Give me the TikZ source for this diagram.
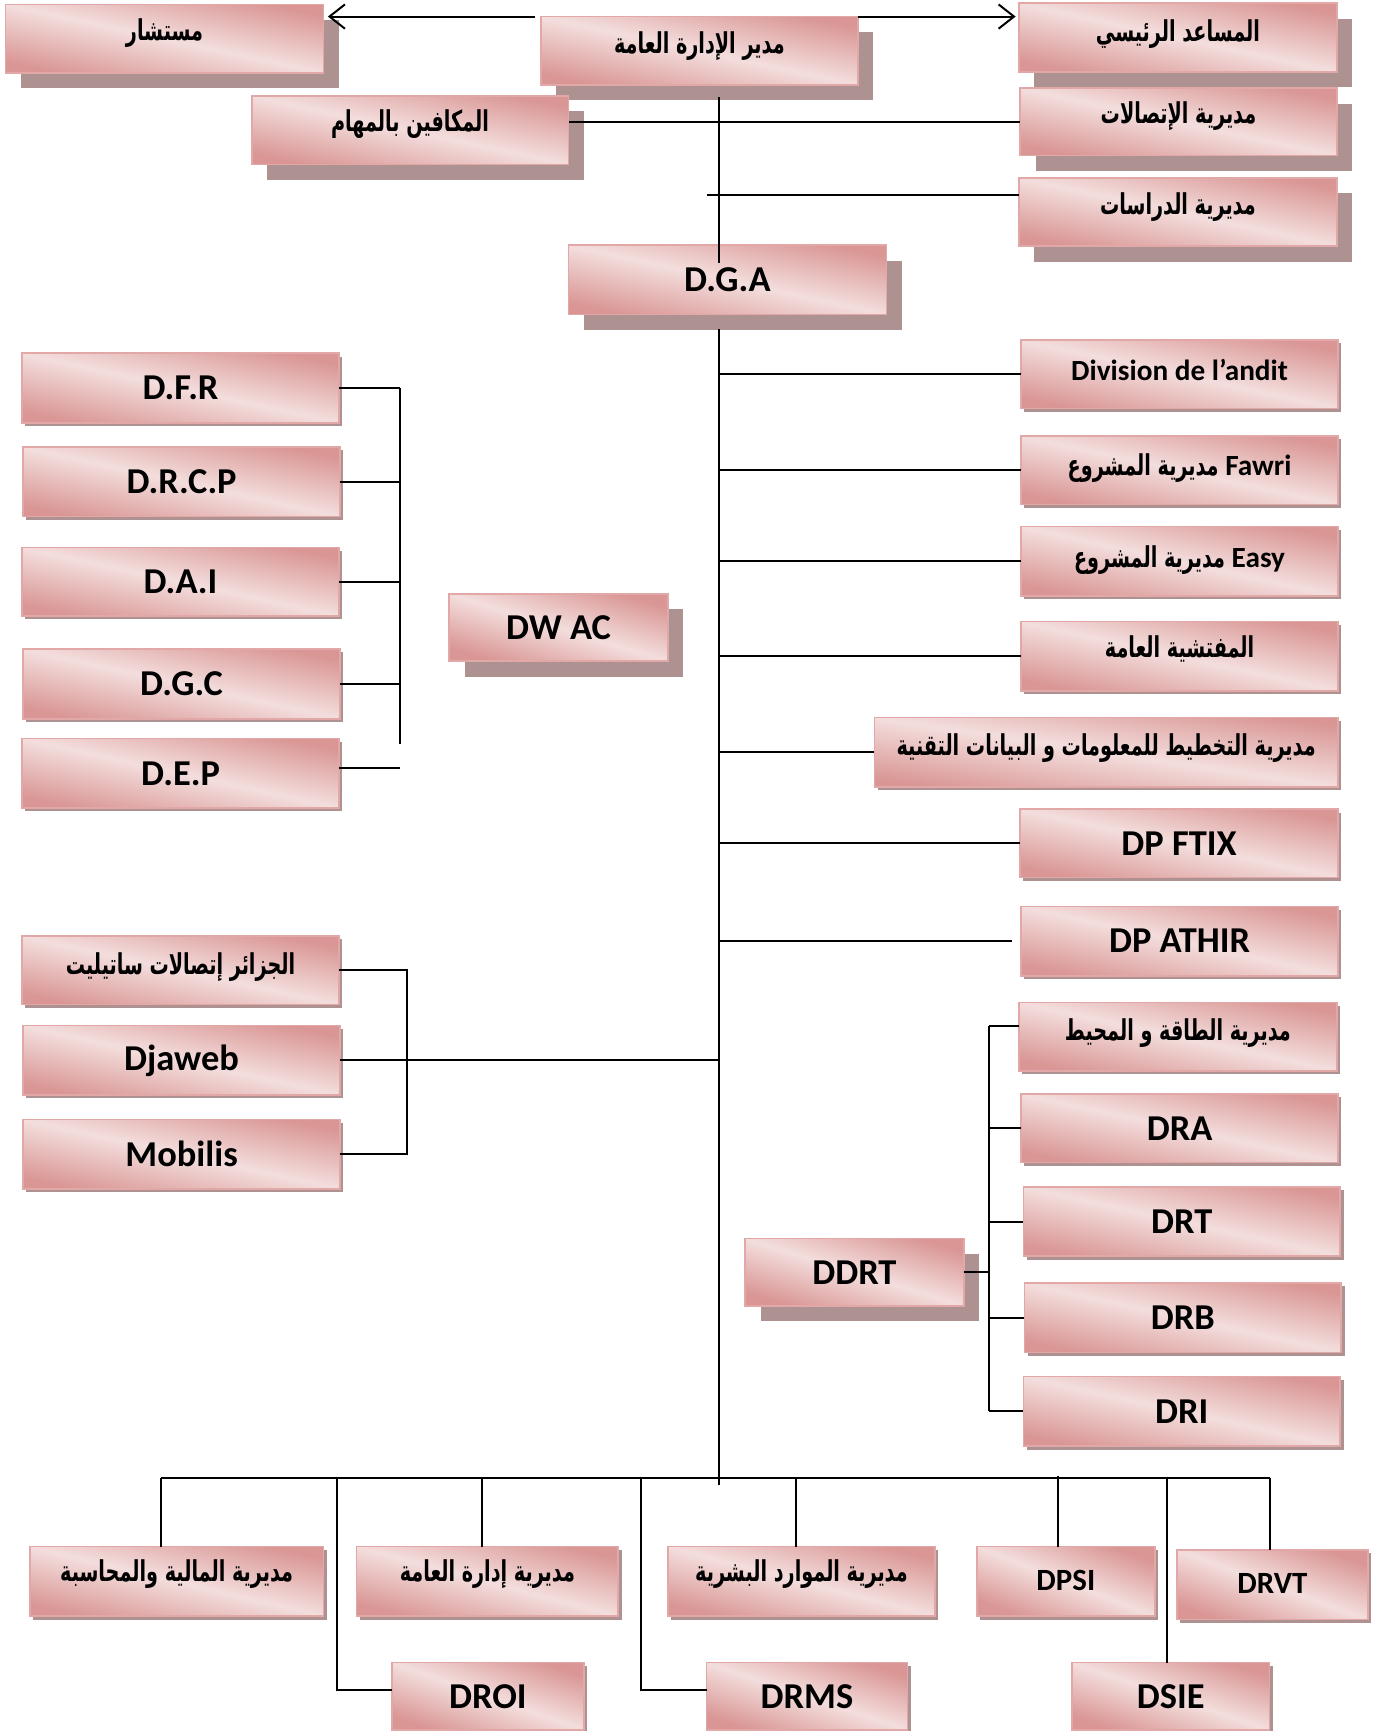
\documentclass[tikz,border=0pt]{standalone}
\usepackage{fontspec}
\usetikzlibrary{shadows,arrows.meta}
\TeXXeTstate=1
\newfontfamily\arabicfont[Script=Arabic]{DejaVu Sans}
\newfontfamily\latinfont{Carlito}
\definecolor{pinkD}{RGB}{217,150,148}
\definecolor{pinkL}{RGB}{243,222,221}
\definecolor{pinkB}{RGB}{226,168,168}
\definecolor{shadowC}{RGB}{174,145,145}
\newcommand\artext[1]{{\arabicfont\bfseries\fontsize{20}{24}\selectfont\scalebox{0.87}[1.3]{\beginR #1\endR}}}
\newcommand\obox[7][smallsh]{\pgfmathsetmacro\shang{-atan((#6-#4)/(#5-#3))}%
  \node[obox,#1,shading angle=\shang,minimum width={#5pt-#3pt},minimum height={#6pt-#4pt}] (#2) at ({(#3+#5)/2},{(#4+#6)/2}) {#7};}
\newcommand\up[2]{\raisebox{#1pt}{#2}}
\tikzset{
  obox/.style={draw=pinkB, line width=1.5pt, top color=pinkD, bottom color=pinkD, middle color=pinkL,
    inner sep=0pt, outer sep=0pt, text=black, font=\latinfont\bfseries\fontsize{33}{36}\selectfont},
  smallsh/.style={drop shadow={shadow xshift=3pt, shadow yshift=-3pt, fill=shadowC, opacity=1}},
  bigsh/.style={drop shadow={shadow xshift=14pt, shadow yshift=-14pt, fill=shadowC, opacity=1}},
  midfont/.style={font=\latinfont\bfseries\fontsize{28}{32}\selectfont},
  smfont/.style={font=\latinfont\bfseries\fontsize{26.5}{30}\selectfont},
  conn/.style={line width=1.8pt, black},
  arr/.style={conn, -{Straight Barb[length=14pt,width=22pt]}}
}
\begin{document}
\begin{tikzpicture}[x=1pt,y=-1pt]
\useasboundingbox (0,0) rectangle (1243,1568);
\clip (0,0) rectangle (1243,1568);
% top boxes
\obox[bigsh]{mst}{5}{4}{293}{66}{\up{17}{\artext{مستشار}}}
\obox[bigsh]{mdir}{490}{15}{777}{77}{\up{15}{\artext{مدير الإدارة العامة}}}
\obox[bigsh]{msa}{923}{3}{1211}{65}{\up{12}{\artext{المساعد الرئيسي}}}
\obox[bigsh]{mkf}{228}{87}{515}{149}{\up{17}{\artext{المكافين بالمهام}}}
\obox[bigsh]{itt}{924}{80}{1211}{141}{\up{17}{\artext{مديرية الإتصالات}}}
\obox[bigsh]{dir}{923}{161}{1211}{223}{\up{15}{\artext{مديرية الدراسات}}}
\obox[bigsh]{dga}{515}{222}{803}{285}{D.G.A}
\obox[bigsh]{dwac}{407}{538}{605}{599}{DW AC}
\obox[bigsh]{ddrt}{675}{1122}{873}{1183}{DDRT}
% left
\obox{dfr}{20}{320}{307}{383}{D.F.R}
\obox{drcp}{21}{405}{308}{468}{D.R.C.P}
\obox{dai}{20}{496}{307}{558}{D.A.I}
\obox{dgc}{21}{588}{308}{651}{D.G.C}
\obox{dep}{20}{669}{307}{732}{D.E.P}
\obox{sat}{20}{848}{307}{910}{\up{13}{\artext{الجزائر إتصالات ساتيليت}}}
\obox{djw}{21}{929}{308}{992}{Djaweb}
\obox{mob}{21}{1014}{308}{1077}{Mobilis}
% right
\obox[smallsh,smfont]{div}{925}{308}{1212}{370}{\up{8}{Division de l’andit}}
\obox[smallsh,smfont]{faw}{925}{395}{1212}{457}{\up{10}{\artext{مديرية المشروع} Fawri}}
\obox[smallsh,smfont]{easy}{925}{477}{1212}{540}{\up{8}{\artext{مديرية المشروع} Easy}}
\obox{insp}{925}{563}{1212}{626}{\up{17}{\artext{المفتشية العامة}}}
\obox{plan}{792}{650}{1212}{713}{\up{14}{\artext{مديرية التخطيط للمعلومات و البيانات التقنية}}}
\obox{ftix}{924}{733}{1212}{795}{DP FTIX}
\obox{athir}{925}{821}{1212}{884}{DP ATHIR}
\obox{energy}{923}{908}{1211}{970}{\up{12}{\artext{مديرية الطاقة و المحيط}}}
\obox{dra}{925}{991}{1212}{1053}{DRA}
\obox{drt}{927}{1075}{1214}{1138}{DRT}
\obox{drb}{928}{1162}{1215}{1225}{DRB}
\obox{dri}{927}{1247}{1214}{1310}{DRI}
% bottom
\obox{fin}{27}{1401}{293}{1464}{\up{20}{\artext{مديرية المالية والمحاسبة}}}
\obox{adm}{323}{1401}{560}{1464}{\up{20}{\artext{مديرية إدارة العامة}}}
\obox{rh}{605}{1401}{847}{1464}{\up{20}{\artext{مديرية الموارد البشرية}}}
\obox[smallsh,midfont]{dpsi}{885}{1401}{1046}{1464}{\up{2}{DPSI}}
\obox[smallsh,midfont]{drvt}{1066}{1404}{1239}{1467}{\up{3}{DRVT}}
\obox{droi}{355}{1506}{529}{1567}{DROI}
\obox{drms}{640}{1506}{822}{1567}{DRMS}
\obox{dsie}{971}{1506}{1150}{1567}{DSIE}
% arrows at top
\coordinate (a1) at (mdir.north west -| mst.east);
\coordinate (a2) at (mdir.north east -| msa.west);
\draw[arr] ([xshift=-5pt]mdir.north west) -- ([xshift=4pt]a1);
\draw[arr] (mdir.north east) -- ([xshift=-3pt]a2);
% trunk
\coordinate (ttop) at (651,88);
\coordinate (tin) at (651,238);
\coordinate (tmid) at (651,298);
\coordinate (tbot) at (651,1345);
\draw[conn] (ttop) -- (tin);
\draw[conn] (tmid) -- (tbot);
\draw[conn] (itt.west) -- (itt.west -| mkf.east);
\coordinate (dl) at ([yshift=15pt]dir.west);
\draw[conn] (dl) -- (dl -| 640,0);
% right branches
\foreach \n in {div,faw,easy,insp,plan,ftix}{\draw[conn] (\n.west -| ttop) -- (\n.west);}
\draw[conn] (athir.west -| ttop) -- ([xshift=-8pt]athir.west);
% left bracket
\coordinate (lb) at (362,0);
\draw[conn] (dfr.east -| lb) -- (362,674);
\foreach \n in {dfr,drcp,dai,dgc}{\draw[conn] (\n.east) -- (\n.east -| lb);}
\coordinate (de) at ([yshift=5pt]dep.east);
\draw[conn] (de) -- (de -| lb);
% subsidiaries
\coordinate (sb) at (369,0);
\draw[conn] (sat.east) -- (sat.east -| sb) -- (mob.east -| sb) -- (mob.east);
\draw[conn] (djw.east) -- (djw.east -| ttop);
% DDRT bracket
\coordinate (db) at (896,0);
\coordinate (en) at ([yshift=10pt]energy.west);
\draw[conn] (ddrt.east) -- (ddrt.east -| db);
\draw[conn] (en -| db) -- (dri.west -| db);
\draw[conn] (en -| db) -- (en);
\foreach \n in {dra,drt,drb,dri}{\draw[conn] (\n.west -| db) -- (\n.west);}
% bottom bus
\coordinate (bl) at (146,1339);
\coordinate (br) at (1150,1339);
\draw[conn] (bl) -- (br);
\draw[conn] (bl) -- (bl |- fin.north);
\draw[conn] (305,1339) |- ([yshift=6pt]droi.west);
\draw[conn] (437,1339) -- (437,1339 |- adm.north);
\draw[conn] (581,1339) |- ([yshift=6pt]drms.west);
\draw[conn] (721,1339) -- (721,1339 |- rh.north);
\draw[conn] (958,1337) -- (958,1337 |- dpsi.north);
\draw[conn] (1057,1339) -- (1057,1339 |- dsie.north);
\draw[conn] (br) -- (br |- drvt.north);
\end{tikzpicture}
\end{document}
